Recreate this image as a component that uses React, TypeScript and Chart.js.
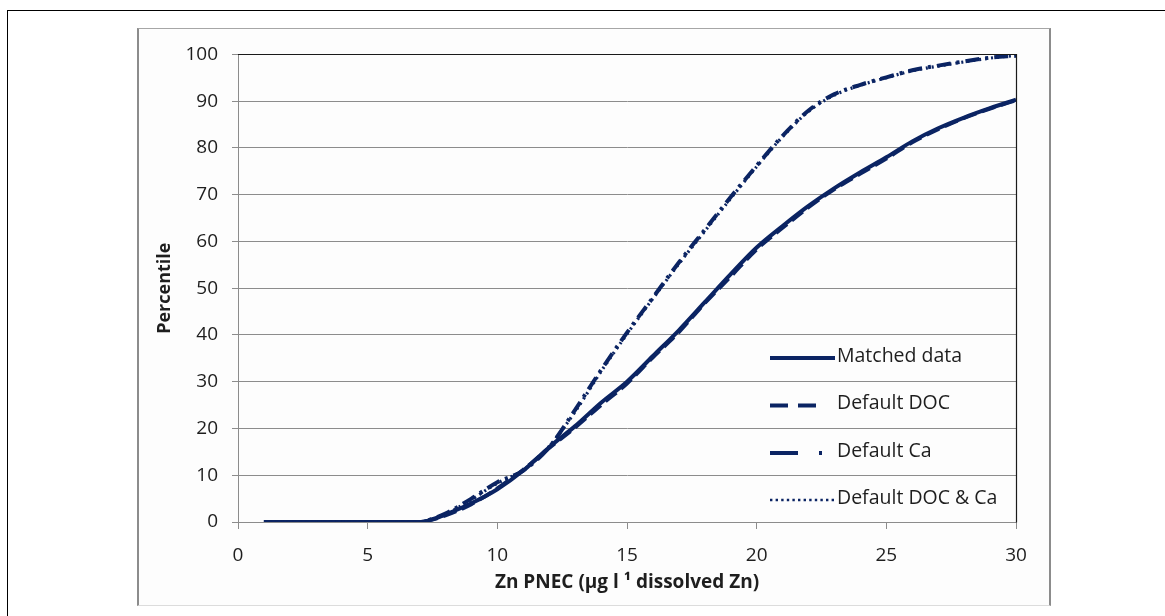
import React, { useEffect, useRef } from "react";
import { Chart, registerables } from "chart.js";

Chart.register(...registerables);

// ---- data ----
const xValues = [1, 2, 3, 4, 5, 6, 7, 7.5, 8, 9, 10, 11, 12, 13, 14, 15, 16, 17, 18, 19, 20, 21, 22, 23, 24, 25, 26, 27, 28, 29, 30];
const matchedData = [0, 0, 0, 0, 0, 0, 0, 0.6, 1.6, 4, 7, 11, 16, 20.5, 25.5, 30, 35.5, 41, 47, 53, 58.7, 63.3, 67.6, 71.4, 74.8, 78, 81.4, 84.2, 86.5, 88.5, 90.3];
const defaultDOC = [0, 0, 0, 0, 0, 0, 0, 0.5, 1.4, 3.8, 7.2, 11.2, 15.8, 20.2, 25, 29.6, 35.2, 40.6, 46.8, 52.5, 58.3, 62.9, 67.3, 71.2, 74.5, 77.7, 81.2, 84, 86.4, 88.4, 90.2];
const defaultCa = [0, 0, 0, 0, 0, 0, 0, 0.7, 1.8, 5, 8.5, 11, 16, 24, 32.5, 40.5, 48, 55.5, 62.5, 69.5, 76.2, 82.6, 88, 91.5, 93.5, 95.1, 96.6, 97.6, 98.5, 99.3, 99.7];
const defaultDOCCa = [0, 0, 0, 0, 0, 0, 0, 0.6, 1.6, 4.8, 8.3, 11.1, 16.2, 23.6, 32.2, 40.2, 47.8, 55.2, 62.2, 69.2, 76, 82.4, 87.8, 91.3, 93.4, 95, 96.5, 97.5, 98.4, 99.2, 99.8];
const seriesNames = ["Matched data", "Default DOC", "Default Ca", "Default DOC & Ca"];
const xTickStep = 5;
const yTickStep = 10;
const xRange = [0, 30];
const yRange = [0, 100];
const xTitle = "Zn PNEC (µg l ¹ dissolved Zn)";
const yTitle = "Percentile";

const NAVY = "#0b2463";
const GRID = "#8c8c8c";
const TEXT = "#1e1e1e";
const FONT = "'Open Sans', 'DejaVu Sans', sans-serif";

const seriesValues = [matchedData, defaultDOC, defaultCa, defaultDOCCa];
const seriesDash: number[][] = [[], [14, 6], [14, 6, 3, 6], [2, 4]];
const seriesWidth = [4, 3.8, 4, 3.2];

// legend sample patterns (Excel-like)
const legendDash: number[][] = [[], [18, 10], [28, 21, 3, 200], [2.4, 3.2]];
const legendWidth = [3.8, 3.8, 3.8, 2.6];

const legendPlugin = {
  id: "customLegend",
  afterDatasetsDraw(chart: any) {
    const { ctx, chartArea } = chart;
    const lineStart = chartArea.right - 246;
    const lineEnd = chartArea.right - 181;
    const textX = chartArea.right - 179;
    const rowsFromBottom = [166, 118.5, 71, 24];
    ctx.save();
    seriesNames.forEach((name, i) => {
      const y = chartArea.bottom - rowsFromBottom[i];
      ctx.beginPath();
      ctx.setLineDash(legendDash[i]);
      ctx.lineWidth = legendWidth[i];
      ctx.strokeStyle = NAVY;
      ctx.lineCap = "butt";
      ctx.moveTo(lineStart, y + 2);
      ctx.lineTo(i === 1 ? lineStart + 47 : lineEnd, y + 2);
      ctx.stroke();
      ctx.setLineDash([]);
      ctx.fillStyle = TEXT;
      ctx.font = `19.5px ${FONT}`;
      ctx.textBaseline = "middle";
      ctx.textAlign = "left";
      ctx.fillText(name, textX, y);
    });
    ctx.restore();
  },
};

const framePlugin = {
  id: "plotFrame",
  afterDraw(chart: any) {
    const { ctx, chartArea } = chart;
    ctx.save();
    ctx.strokeStyle = "#1a1a1a";
    ctx.lineWidth = 1.2;
    ctx.beginPath();
    const t = Math.round(chartArea.top - 0.5) + 0.5;
    const r = Math.round(chartArea.right - 0.5) + 0.5;
    const b = Math.round(chartArea.bottom - 0.5) + 0.5;
    ctx.moveTo(chartArea.left, t);
    ctx.lineTo(r, t);
    ctx.lineTo(r, b);
    ctx.stroke();
    ctx.restore();
  },
};

export default function App() {
  const canvasRef = useRef<HTMLCanvasElement | null>(null);

  useEffect(() => {
    if (!canvasRef.current) return;
    const datasets = seriesNames.map((name, i) => ({
      label: name,
      data: xValues.map((x, j) => ({ x, y: seriesValues[i][j] })),
      borderColor: NAVY,
      backgroundColor: NAVY,
      borderWidth: seriesWidth[i],
      borderDash: seriesDash[i],
      pointRadius: 0,
      fill: false,
      cubicInterpolationMode: "monotone" as const,
      order: 3 - i,
    }));

    const chart = new Chart(canvasRef.current, {
      type: "line",
      data: { datasets },
      options: {
        animation: false,
        responsive: false,
        maintainAspectRatio: false,
        layout: { padding: { left: 0, right: 33, top: 24, bottom: 0 } },
        plugins: {
          legend: { display: false },
          tooltip: { enabled: false },
        },
        scales: {
          x: {
            type: "linear",
            min: xRange[0],
            max: xRange[1],
            afterFit(scale: any) {
              scale.height = 83;
            },
            ticks: {
              stepSize: xTickStep,
              color: TEXT,
              font: { family: FONT, size: 19 },
              padding: 15,
              maxRotation: 0,
            },
            grid: {
              drawOnChartArea: false,
              drawTicks: true,
              tickLength: 7,
              color: GRID,
            },
            border: { display: true, color: GRID, width: 1 },
            title: {
              display: true,
              text: xTitle,
              color: TEXT,
              font: { family: FONT, size: 19, weight: "bold" },
              padding: { top: 0, bottom: 11 },
            },
          },
          y: {
            type: "linear",
            min: yRange[0],
            max: yRange[1],
            afterFit(scale: any) {
              scale.width = 99;
            },
            ticks: {
              stepSize: yTickStep,
              color: TEXT,
              font: { family: FONT, size: 19 },
              padding: 14,
            },
            grid: {
              drawOnChartArea: true,
              drawTicks: true,
              tickLength: 6,
              color: GRID,
            },
            border: { display: true, color: GRID, width: 1 },
            title: {
              display: true,
              text: yTitle,
              color: TEXT,
              font: { family: FONT, size: 18, weight: "bold" },
              padding: { top: 15, bottom: 0 },
            },
          },
        },
      },
      plugins: [framePlugin, legendPlugin],
    });
    return () => chart.destroy();
  }, []);

  return (
    <div
      style={{
        position: "fixed",
        left: 0,
        top: 0,
        width: 1165,
        height: 616,
        background: "#ffffff",
        overflow: "hidden",
      }}
    >
      <div
        style={{
          position: "absolute",
          left: 7,
          top: 10,
          width: 1400,
          height: 800,
          borderTop: "1px solid #000",
          borderLeft: "1px solid #000",
        }}
      />
      <div
        style={{
          position: "absolute",
          left: 137,
          top: 28,
          width: 914,
          height: 578,
          boxSizing: "border-box",
          borderLeft: "2px solid #8c8c8c",
          borderRight: "2px solid #8c8c8c",
          borderTop: "1px solid #a6a6a6",
          borderBottom: "1px solid #dcdcdc",
          background: "#fdfdfd",
        }}
      >
        <canvas ref={canvasRef} width={910} height={576} style={{ display: "block" }} />
      </div>
    </div>
  );
}
